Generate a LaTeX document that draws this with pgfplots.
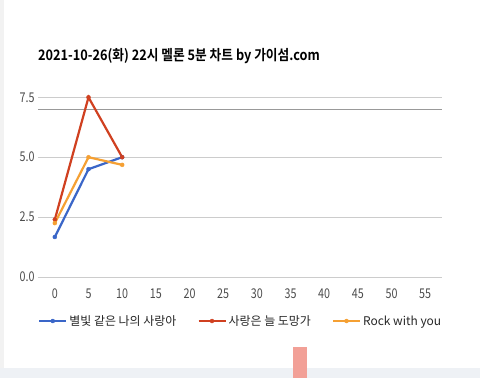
\documentclass[border=0pt]{standalone}
\usepackage{fontspec}
\setmainfont{Noto Sans CJK KR}
\newfontfamily\titlefont{Noto Sans CJK KR}[UprightFont={* Bold}, FakeStretch=0.88]
\newfontfamily\tickfont{Noto Sans CJK KR}[FakeStretch=0.8]
\usepackage{pgfplots}
\pgfplotsset{compat=1.18}
\definecolor{cblue}{HTML}{3A66C8}
\definecolor{cred}{HTML}{D04020}
\definecolor{corange}{HTML}{F5A033}
\definecolor{gridc}{HTML}{CCCCCC}
\definecolor{refc}{HTML}{999999}
\definecolor{strip}{HTML}{EEF1F5}
\definecolor{smudge}{HTML}{F2A097}
\pgfplotsset{
  /pgfplots/mylegend/.style={
    /pgfplots/legend image code/.code={%
      \draw[##1, mark=none] (0pt,0pt) -- (27bp,0pt);
      \draw[##1, line width=0.4bp] plot coordinates {(13.5bp,0pt)};}}}
\begin{document}
\begin{tikzpicture}[x=1bp,y=1bp]
\path[use as bounding box] (0,0) rectangle (480,378);
\fill[white] (0,0) rectangle (480,378);
\fill[black!5] (0,0) rectangle (4,378);
\fill[strip] (0,0) rectangle (480,10);
\fill[smudge] (293,0) rectangle (307,31);
\node[anchor=west, inner sep=0pt, font=\titlefont\fontsize{14.5}{17}\selectfont] at (38,322) {2021-10-26(화) 22시 멜론 5분 차트 by 가이섬.com};
\begin{axis}[
  at={(38bp,101bp)}, anchor=south west,
  scale only axis, width=404bp, height=179.7bp,
  xmin=-2.5, xmax=57.5, ymin=0, ymax=7.5,
  axis line style={draw=none},
  tick style={draw=none},
  xtick={0,5,...,55},
  ytick={0,2.5,5,7.5},
  ymajorgrids,
  grid style={gridc, line width=1bp},
  yticklabel style={/pgf/number format/fixed, /pgf/number format/fixed zerofill, /pgf/number format/precision=1},
  tick label style={font=\tickfont\fontsize{13.5}{15}\selectfont, text=black!70},
  xticklabel style={yshift=-8bp},
  /pgf/number format/assume math mode=true,
  legend columns=3,
  legend style={at={(0,0)}, anchor=west, yshift=-44bp, draw=none, fill=none, inner sep=0pt,
    font=\fontsize{12}{14}\selectfont, text=black!85,
    /tikz/every even column/.append style={column sep=19bp}},
  every axis plot/.append style={line width=2.2bp, mark=*, mark size=2bp},
  clip=false,
]
\addplot[refc, line width=1.5bp, mark=none, forget plot] coordinates {(-2.5,7) (57.5,7)};
\addplot[cblue, mark options={fill=cblue, line width=0.4bp}, mylegend] coordinates {(0,1.67) (5,4.5) (10,5.0)};
\addlegendentry{별빛 같은 나의 사랑아}
\addplot[cred, mark options={fill=cred, line width=0.4bp}, mylegend] coordinates {(0,2.4) (5,7.5) (10,5.0)};
\addlegendentry{사랑은 늘 도망가}
\addplot[corange, mark options={fill=corange, line width=0.4bp}, mylegend] coordinates {(0,2.25) (5,5.0) (10,4.68)};
\addlegendentry{Rock with you}
\end{axis}
\end{tikzpicture}
\end{document}
